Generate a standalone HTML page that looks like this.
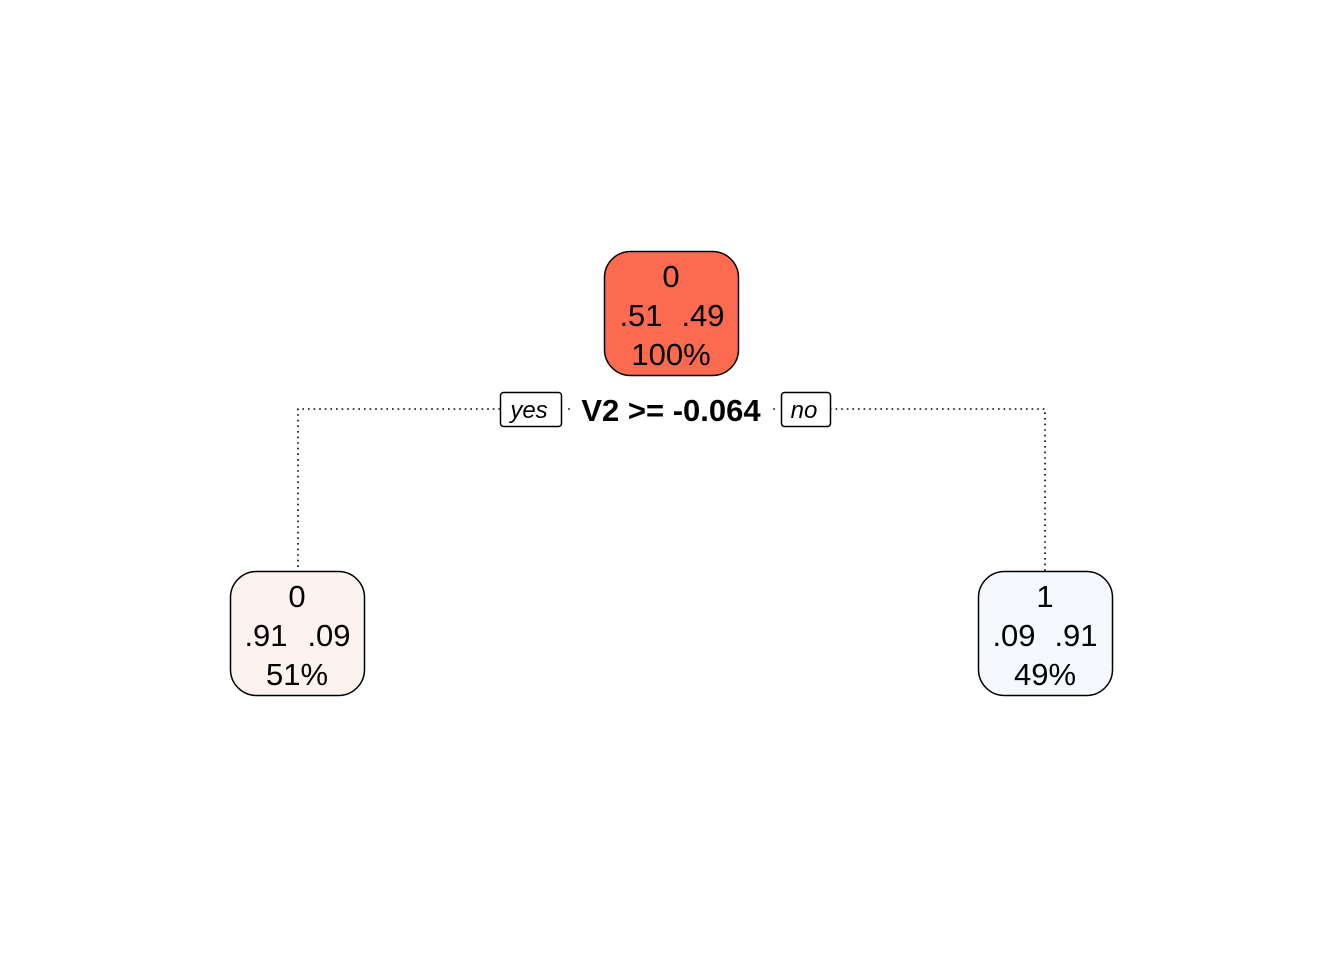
<!DOCTYPE html>
<html><head><style>body{margin:0;background:#fff}svg{display:block}text{white-space:pre}</style></head><body>
<svg width="1344" height="960" xmlns="http://www.w3.org/2000/svg" font-family="Liberation Sans, Arial, sans-serif">
<g fill="none" stroke="#000" stroke-width="1.6" stroke-dasharray="1.6,4">
<polyline points="500,409 298,409 298,571"/>
<polyline points="830,409 1045,409 1045,571"/>
</g>
<circle cx="569" cy="409" r="0.9" fill="#000"/>
<circle cx="774" cy="409" r="0.9" fill="#000"/>
<g stroke="#000" stroke-width="1.5">
<rect x="604.5" y="251.5" width="134" height="124" rx="26" fill="#fc6b4f"/>
<rect x="230.5" y="571.5" width="134" height="124" rx="26" fill="#fdf3ee"/>
<rect x="978.5" y="571.5" width="134" height="124" rx="26" fill="#f5f9fe"/>
<rect x="500.5" y="392.5" width="61" height="34" rx="3" fill="#fff"/>
<rect x="781.5" y="392.5" width="49" height="34" rx="3" fill="#fff"/>
</g>
<g font-size="31" fill="#000" text-anchor="middle">
<text x="671" y="287">0</text><text x="641" y="326">.51</text><text x="703" y="326">.49</text><text x="671" y="365">100%</text>
<text x="297" y="607">0</text><text x="266" y="646">.91</text><text x="329" y="646">.09</text><text x="297" y="685">51%</text>
<text x="1045" y="607">1</text><text x="1014" y="646">.09</text><text x="1076" y="646">.91</text><text x="1045" y="685">49%</text>
</g>
<text x="671" y="421" font-size="31" font-weight="bold" text-anchor="middle">V2 &gt;= -0.064</text>
<text x="529" y="418" font-size="24" font-style="italic" text-anchor="middle">yes</text>
<text x="804" y="418" font-size="24" font-style="italic" text-anchor="middle">no</text>
</svg>
</body></html>
